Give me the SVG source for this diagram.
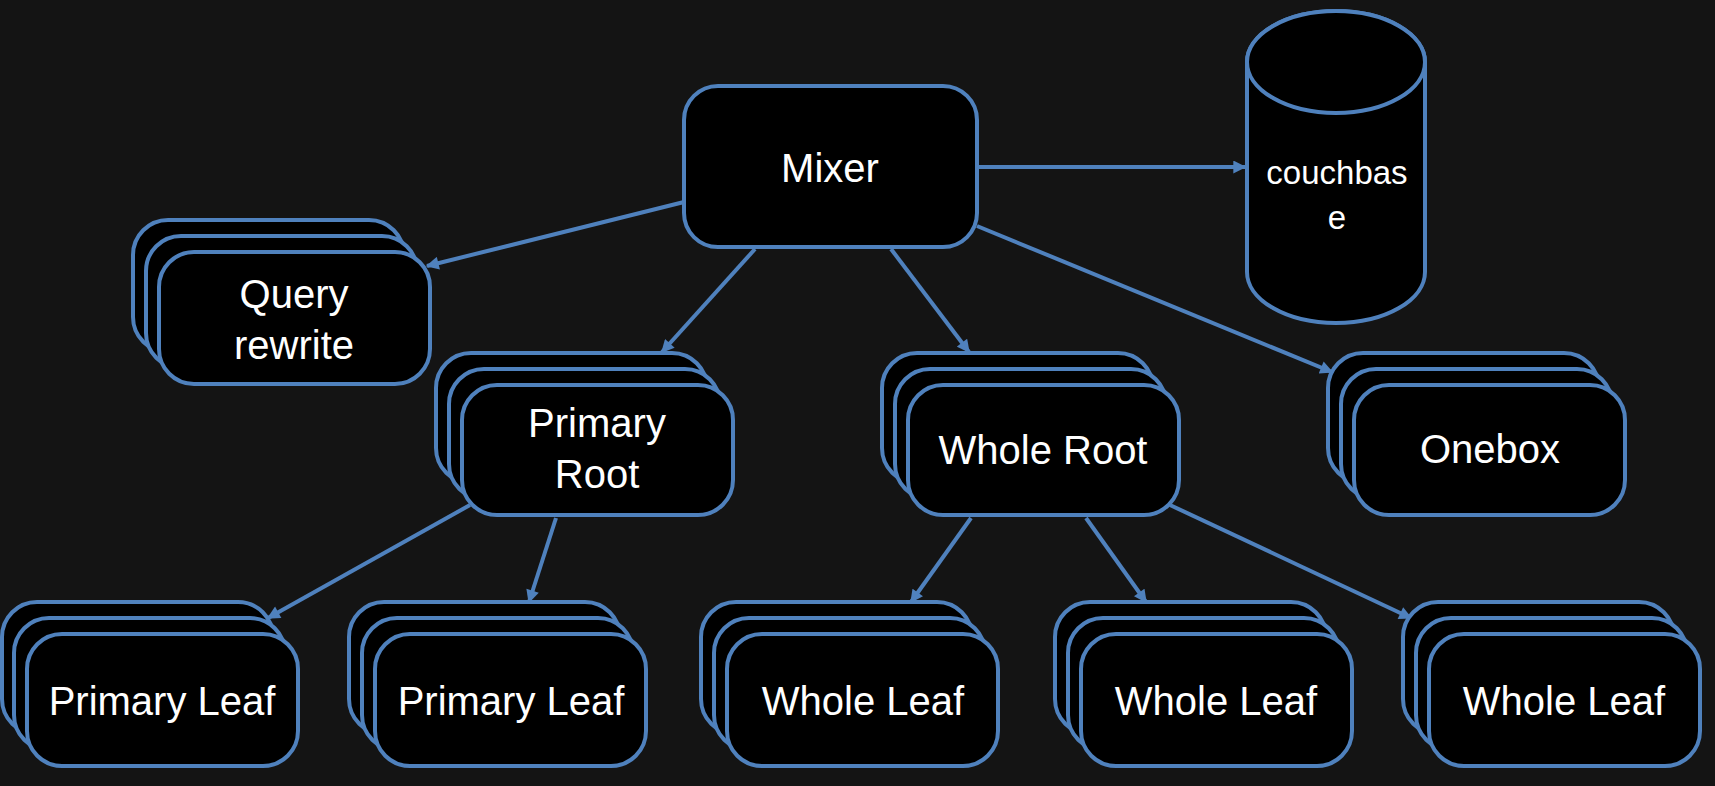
<svg xmlns="http://www.w3.org/2000/svg" width="1715" height="786" viewBox="0 0 1715 786">
<defs>
<style>
.box{fill:#000;stroke:#4F81BD;stroke-width:4}
.t{fill:#fff;font-family:"Liberation Sans",Arial,sans-serif;font-size:40px;text-anchor:middle}
.ts{fill:#fff;font-family:"Liberation Sans",Arial,sans-serif;font-size:33px;text-anchor:middle}
.c{stroke:#4F81BD;stroke-width:4;fill:none;marker-end:url(#arr)}
</style>
<marker id="arr" viewBox="0 0 10 10" refX="9" refY="5" markerWidth="14" markerHeight="13" markerUnits="userSpaceOnUse" orient="auto"><path d="M0,0 L10,5 L0,10 z" fill="#4F81BD"/></marker>
</defs>
<rect x="0" y="0" width="1715" height="786" fill="#141414"/>
<g id="connectors">
<line class="c" x1="977" y1="167" x2="1245" y2="167"/>
<line class="c" x1="684" y1="202" x2="427" y2="266"/>
<line class="c" x1="755" y1="249" x2="662" y2="352"/>
<line class="c" x1="891" y1="249" x2="969" y2="352"/>
<line class="c" x1="977" y1="226" x2="1332" y2="372"/>
<line class="c" x1="470" y1="505" x2="268" y2="618"/>
<line class="c" x1="556" y1="518" x2="529" y2="602"/>
<line class="c" x1="971" y1="518" x2="911" y2="602"/>
<line class="c" x1="1086" y1="518" x2="1146" y2="602"/>
<line class="c" x1="1170" y1="505" x2="1411" y2="618"/>
</g>
<g id="mixer">
<rect class="box" x="684" y="86" width="293" height="161" rx="34"/>
<text class="t" x="830" y="182">Mixer</text>
</g>
<g id="couchbase">
<path class="box" d="M1247 62 A89 51 0 0 1 1425 62 L1425 272 A89 51 0 0 1 1247 272 Z"/>
<ellipse class="box" cx="1336" cy="62" rx="89" ry="51"/>
<text class="ts" x="1337" y="184">couchbas</text>
<text class="ts" x="1337" y="229">e</text>
</g>
<g id="query-rewrite">
<rect class="box" x="133" y="220" width="271" height="132" rx="35"/>
<rect class="box" x="146" y="236" width="271" height="132" rx="35"/>
<rect class="box" x="159" y="252" width="271" height="132" rx="35"/>
<text class="t" x="294" y="308">Query</text>
<text class="t" x="294" y="359">rewrite</text>
</g>
<g id="primary-root">
<rect class="box" x="436" y="353" width="271" height="130" rx="35"/>
<rect class="box" x="449" y="369" width="271" height="130" rx="35"/>
<rect class="box" x="462" y="385" width="271" height="130" rx="35"/>
<text class="t" x="597" y="437">Primary</text>
<text class="t" x="597" y="488">Root</text>
</g>
<g id="whole-root">
<rect class="box" x="882" y="353" width="271" height="130" rx="35"/>
<rect class="box" x="895" y="369" width="271" height="130" rx="35"/>
<rect class="box" x="908" y="385" width="271" height="130" rx="35"/>
<text class="t" x="1043" y="464">Whole Root</text>
</g>
<g id="onebox">
<rect class="box" x="1328" y="353" width="271" height="130" rx="35"/>
<rect class="box" x="1341" y="369" width="271" height="130" rx="35"/>
<rect class="box" x="1354" y="385" width="271" height="130" rx="35"/>
<text class="t" x="1490" y="463">Onebox</text>
</g>
<g id="primary-leaf-1">
<rect class="box" x="2" y="602" width="271" height="132" rx="35"/>
<rect class="box" x="14" y="618" width="271" height="132" rx="35"/>
<rect class="box" x="27" y="634" width="271" height="132" rx="35"/>
<text class="t" x="162" y="715">Primary Leaf</text>
</g>
<g id="primary-leaf-2">
<rect class="box" x="349" y="602" width="271" height="132" rx="35"/>
<rect class="box" x="362" y="618" width="271" height="132" rx="35"/>
<rect class="box" x="375" y="634" width="271" height="132" rx="35"/>
<text class="t" x="511" y="715">Primary Leaf</text>
</g>
<g id="whole-leaf-1">
<rect class="box" x="701" y="602" width="271" height="132" rx="35"/>
<rect class="box" x="714" y="618" width="271" height="132" rx="35"/>
<rect class="box" x="727" y="634" width="271" height="132" rx="35"/>
<text class="t" x="863" y="715">Whole Leaf</text>
</g>
<g id="whole-leaf-2">
<rect class="box" x="1055" y="602" width="271" height="132" rx="35"/>
<rect class="box" x="1068" y="618" width="271" height="132" rx="35"/>
<rect class="box" x="1081" y="634" width="271" height="132" rx="35"/>
<text class="t" x="1216" y="715">Whole Leaf</text>
</g>
<g id="whole-leaf-3">
<rect class="box" x="1403" y="602" width="271" height="132" rx="35"/>
<rect class="box" x="1416" y="618" width="271" height="132" rx="35"/>
<rect class="box" x="1429" y="634" width="271" height="132" rx="35"/>
<text class="t" x="1564" y="715">Whole Leaf</text>
</g>
</svg>
